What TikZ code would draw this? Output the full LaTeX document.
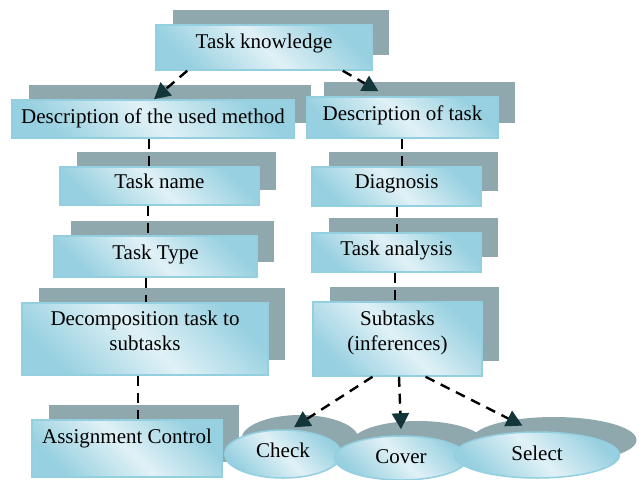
\documentclass[tikz,border=0pt]{standalone}
\usepackage{fontspec}
\setmainfont{Liberation Serif}
\usetikzlibrary{arrows.meta,shapes.geometric,shadows}

\definecolor{boxdark}{HTML}{97D0E0}
\definecolor{boxlight}{HTML}{E0F1F6}
\definecolor{boxline}{HTML}{93CFDF}
\definecolor{shadowc}{HTML}{8EA8AD}
\definecolor{tipc}{HTML}{12363A}

\tikzset{
  box/.style={draw=boxline, line width=1.5pt, inner sep=0pt,
    left color=boxdark, right color=boxdark, middle color=boxlight, shading angle=135,
    font=\fontsize{21}{25}\selectfont,
    drop shadow={shadow xshift=17pt, shadow yshift=15pt, fill=shadowc, opacity=1}},
  single/.style={box, text height=15pt},
  twoline/.style={box, align=center},
  oval/.style={single, ellipse},
  link/.style={line width=2.4pt, dash pattern=on 10pt off 7pt},
  arr/.style={link, -{Triangle[length=16pt,width=17pt,color=tipc]}}
}

\begin{document}
\begin{tikzpicture}[x=1pt,y=-1pt]
  \useasboundingbox (0,0) rectangle (639,479);
  % left column
  \node[single, minimum width=216, minimum height=45, text depth=14pt] (know) at (264,47.5) {Task knowledge};
  \node[single, minimum width=282, minimum height=38, text depth=7pt] (used) at (153,119) {Description of the used method};
  \node[single, minimum width=199, minimum height=38, text depth=11pt] (name) at (159.5,186) {Task name};
  \node[single, minimum width=203, minimum height=41, text depth=10pt] (type) at (155.5,256.5) {Task Type};
  \node[twoline, minimum width=246, minimum height=72, text depth=17pt] (decomp) at (145,339) {Decomposition task to\\subtasks};
  \node[single, minimum width=190, minimum height=57, text depth=26pt] (assign) at (127,448.5) {Assignment Control};
  % right column
  \node[single, minimum width=191, minimum height=41, text depth=10pt] (desc) at (402.5,117.5) {Description of task};
  \node[single, minimum width=169, minimum height=39, text depth=12pt] (diag) at (396.5,186.5) {Diagnosis};
  \node[single, minimum width=169, minimum height=39, text depth=10pt] (anal) at (396.5,252.5) {Task analysis};
  \node[twoline, minimum width=169, minimum height=74, text depth=17pt] (sub) at (397.5,339) {Subtasks\\(inferences)};
  % inferences
  \node[oval, minimum width=117, minimum height=48, text depth=9pt] (check) at (283,454) {Check};
  \node[oval, minimum width=133, minimum height=44, text depth=5pt] (cover) at (401,458) {Cover};
  \node[oval, minimum width=165, minimum height=46, text depth=5pt] (select) at (537,455) {Select};

  % connectors
  \draw[arr] ([xshift=32pt]know.south west) -- ([xshift=1pt]used.north);
  \draw[arr] ([xshift=-30pt]know.south east) -- ([xshift=-24pt,yshift=5pt]desc.north);
  \draw[link] ([xshift=-4pt]used.south) -- ([xshift=-4pt]used.south |- name.north);
  \draw[link] ([xshift=-11.5pt]name.south) -- ([xshift=-11.5pt]name.south |- type.north);
  \draw[link] ([xshift=-9.5pt]type.south) -- ([xshift=-9.5pt]type.south |- decomp.north);
  \draw[link] ([xshift=-7pt]decomp.south) -- ([xshift=-7pt]decomp.south |- assign.north);
  \draw[link] ([xshift=-0.5pt]desc.south) -- ([xshift=-0.5pt]desc.south |- diag.north);
  \draw[link] ([xshift=0.5pt]diag.south) -- ([xshift=0.5pt]diag.south |- anal.north);
  \draw[link] ([xshift=-1.5pt]anal.south) -- ([xshift=-1.5pt]anal.south |- sub.north);
  \draw[arr] ([xshift=-25pt]sub.south) -- ([xshift=11pt,yshift=2pt]check.north);
  \draw[arr] ([xshift=1.5pt]sub.south) -- ([yshift=6pt]cover.north);
  \draw[arr] ([xshift=28pt]sub.south) -- ([yshift=6pt]select.122);
\end{tikzpicture}
\end{document}
